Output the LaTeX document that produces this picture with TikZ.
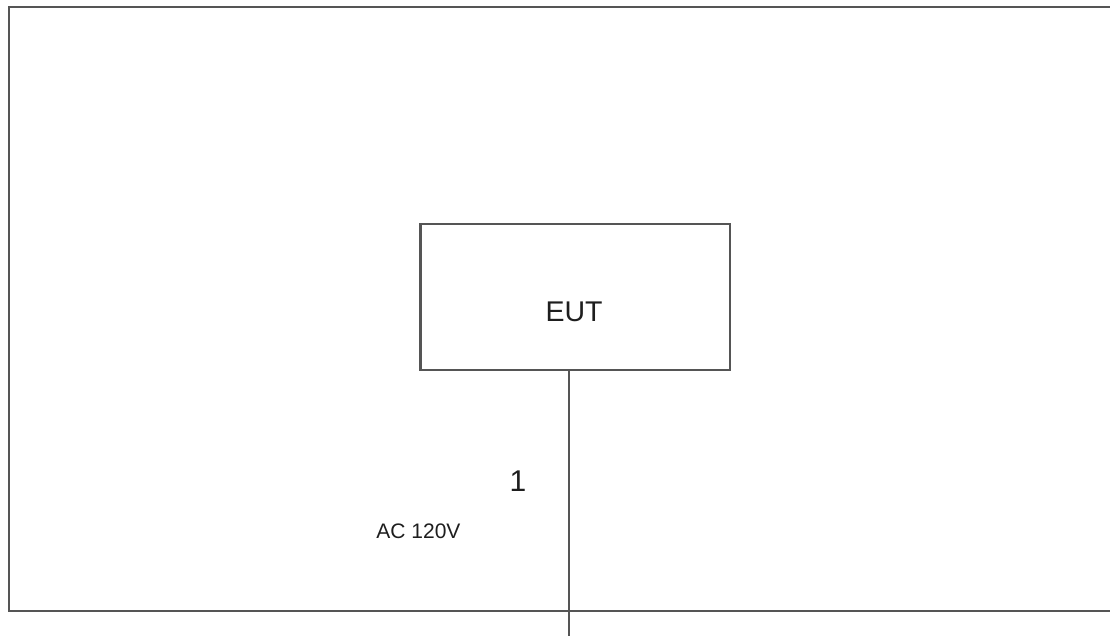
\documentclass[tikz,border=0pt]{standalone}
\usepackage{fontspec}
\setmainfont{Liberation Sans}
\definecolor{linegray}{RGB}{85,85,85}
\definecolor{txt}{RGB}{30,30,30}
\begin{document}
\begin{tikzpicture}[x=1pt,y=-1pt,
  frameline/.style={draw=linegray,line width=2.2pt},
  boxstyle/.style={draw=linegray,line width=2.2pt,rectangle,minimum width=309.5pt,minimum height=146pt,inner sep=0pt},
  wire/.style={draw=linegray,line width=2pt},
  lbl/.style={text=txt,inner sep=0pt,anchor=center}]
\useasboundingbox (0,0) rectangle (1110,635);
% outer frame (open to the right)
\coordinate (ftr) at (1112,7);
\coordinate (ftl) at (9,7);
\coordinate (fbl) at (9,611);
\coordinate (fbr) at (1112,611);
\draw[frameline,line join=miter] (ftr) -- (ftl) -- (fbl) -- (fbr);
% EUT box
\node[boxstyle] (eut) at (575.25,297) {};
\node[lbl,font=\fontsize{28.5}{32}\selectfont] (euttxt) at (574,312) {EUT};
% wire
\coordinate (wend) at (569,636);
\draw[wire] (eut.south -| wend) -- (wend);
% labels
\node[lbl,font=\fontsize{30}{34}\selectfont] (one) at (518,481) {1};
\node[lbl,font=\fontsize{21}{24}\selectfont] (ac) at (418.5,531) {AC 120V};
\end{tikzpicture}
\end{document}
